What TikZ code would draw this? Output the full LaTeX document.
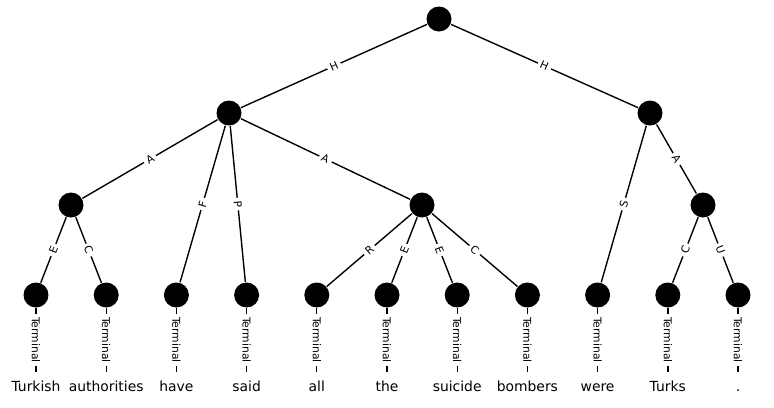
\documentclass[tikz,border=0pt]{standalone}
\usepackage{fontspec}
\setmainfont{DejaVu Sans}
\begin{document}
\begin{tikzpicture}[x=0.72pt,y=-0.72pt,line width=1pt,
  dot/.style={circle,fill=black,minimum size=18pt,inner sep=0pt},
  word/.style={anchor=base,inner xsep=3.5pt,inner ysep=5.5pt,text height=8pt,text depth=2.5pt,font=\fontsize{10}{12}\selectfont},
  elab/.style={midway,sloped,fill=white,inner sep=2.2pt,font=\fontsize{7.75}{9}\selectfont},
  tlab/.style={midway,rotate=-90,fill=white,inner sep=2.2pt,font=\fontsize{7.75}{9}\selectfont}]
\useasboundingbox (0,0) rectangle (774,407);
% inner nodes
\node[dot] (root) at (439,19) {};
\node[dot] (h1) at (229,113) {};
\node[dot] (h2) at (650,113) {};
\node[dot] (a1) at (71,205) {};
\node[dot] (a2) at (422,205) {};
\node[dot] (a3) at (703,205) {};
% leaves and words
\foreach \w [count=\i] in {Turkish,authorities,have,said,all,the,suicide,bombers,were,Turks,.} {
  \node[dot] (t\i) at ({36+70.2*(\i-1)},295) {};
  \node[word] (w\i) at ({36+70.2*(\i-1)},391) {\w};
  \draw (t\i) -- node[tlab] {Terminal} (w\i);
}
\foreach \a/\b/\l in {root/h1/H,root/h2/H,h1/a1/A,h1/t3/F,h1/t4/P,h1/a2/A,
  a1/t1/E,a1/t2/C,a2/t5/R,a2/t6/E,a2/t7/E,a2/t8/C,h2/t9/S,h2/a3/A,a3/t10/C,a3/t11/U}
  \draw (\a) -- node[elab] {\l} (\b);
\end{tikzpicture}
\end{document}
